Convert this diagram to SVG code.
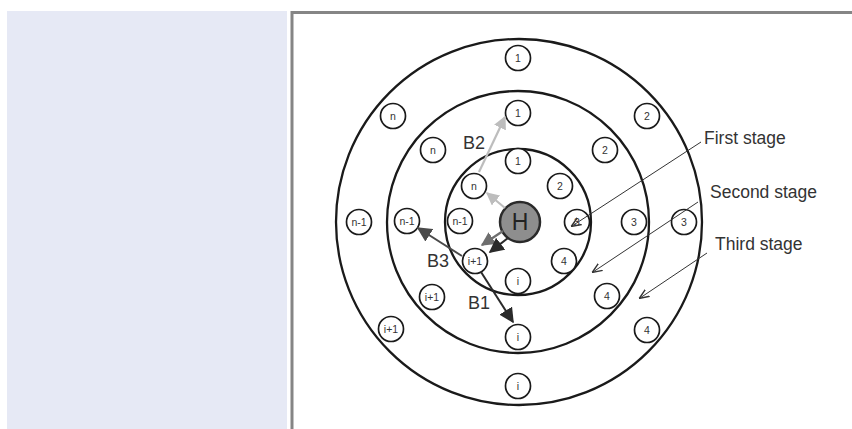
<svg xmlns="http://www.w3.org/2000/svg" width="852" height="429" viewBox="0 0 852 429">
<style>
.ring{fill:none;stroke:#1a1a1a;stroke-width:2.3}
.nd circle{fill:#fff;stroke:#1a1a1a;stroke-width:1.7}
.nd text{font-family:"Liberation Sans",Arial,sans-serif;font-size:10.5px;fill:#333;text-anchor:middle}
.lbl{font-family:"Liberation Sans",Arial,sans-serif;font-size:17.5px;fill:#333}
.blbl{font-family:"Liberation Sans",Arial,sans-serif;font-size:18px;fill:#333}
.lead{stroke:#333;stroke-width:1;fill:none}
</style>
<defs>
<marker id="aL" viewBox="0 0 10 10" refX="9" refY="5" markerWidth="13" markerHeight="13" markerUnits="userSpaceOnUse" orient="auto"><path d="M0,0 L10,5 L0,10 Z" fill="#bdbdbd"/></marker>
<marker id="aM" viewBox="0 0 10 10" refX="9" refY="5" markerWidth="14" markerHeight="14" markerUnits="userSpaceOnUse" orient="auto"><path d="M0,0 L10,5 L0,10 Z" fill="#6e6e6e"/></marker>
<marker id="aD" viewBox="0 0 10 10" refX="9" refY="5" markerWidth="15" markerHeight="15" markerUnits="userSpaceOnUse" orient="auto"><path d="M0,0 L10,5 L0,10 Z" fill="#2a2a2a"/></marker>
<marker id="aB3" viewBox="0 0 10 10" refX="9" refY="5" markerWidth="15" markerHeight="15" markerUnits="userSpaceOnUse" orient="auto"><path d="M0,0 L10,5 L0,10 Z" fill="#4a4a4a"/></marker>
<marker id="aO" viewBox="0 0 10 10" refX="9" refY="5" markerWidth="10" markerHeight="10" markerUnits="userSpaceOnUse" orient="auto"><path d="M0,1 L10,5 L0,9" fill="none" stroke="#333" stroke-width="1.4"/></marker>
</defs>
<rect x="7" y="11" width="280" height="418" fill="#e6e9f5"/>
<path d="M292,429 V12.5 H852" fill="none" stroke="#858585" stroke-width="3"/>

<g id="rings">
<circle class="ring" cx="519" cy="222" r="183"/>
<circle class="ring" cx="518" cy="222" r="131"/>
<circle class="ring" cx="518" cy="222" r="73"/>
</g>

<g id="outer-nodes">
<g class="nd" id="o1"><circle cx="518" cy="58" r="12.5"/><text x="518" y="62">1</text></g>
<g class="nd" id="o2"><circle cx="647" cy="116" r="12.5"/><text x="647" y="120">2</text></g>
<g class="nd" id="o3"><circle cx="684" cy="222" r="12.5"/><text x="684" y="226">3</text></g>
<g class="nd" id="o4"><circle cx="647" cy="330" r="12.5"/><text x="647" y="334">4</text></g>
<g class="nd" id="oi"><circle cx="518" cy="386" r="12.5"/><text x="518" y="390">i</text></g>
<g class="nd" id="oi1"><circle cx="391" cy="329" r="12.5"/><text x="391" y="333">i+1</text></g>
<g class="nd" id="on1"><circle cx="359" cy="222" r="12.5"/><text x="359" y="226">n-1</text></g>
<g class="nd" id="on"><circle cx="393" cy="116" r="12.5"/><text x="393" y="120">n</text></g>
</g>

<g id="middle-nodes">
<g class="nd" id="m1"><circle cx="518" cy="113" r="12.5"/><text x="518" y="117">1</text></g>
<g class="nd" id="m2"><circle cx="605" cy="150" r="12.5"/><text x="605" y="154">2</text></g>
<g class="nd" id="m3"><circle cx="634" cy="222" r="12.5"/><text x="634" y="226">3</text></g>
<g class="nd" id="m4"><circle cx="607" cy="296" r="12.5"/><text x="607" y="300">4</text></g>
<g class="nd" id="mi"><circle cx="518" cy="337" r="12.5"/><text x="518" y="341">i</text></g>
<g class="nd" id="mi1"><circle cx="432" cy="297" r="12.5"/><text x="432" y="301">i+1</text></g>
<g class="nd" id="mn1"><circle cx="407" cy="221" r="12.5"/><text x="407" y="225">n-1</text></g>
<g class="nd" id="mn"><circle cx="433" cy="150" r="12.5"/><text x="433" y="154">n</text></g>
</g>

<g id="inner-nodes">
<g class="nd" id="i1"><circle cx="518" cy="161" r="12.5"/><text x="518" y="165">1</text></g>
<g class="nd" id="i2"><circle cx="560" cy="186" r="12.5"/><text x="560" y="190">2</text></g>
<g class="nd" id="i3"><circle cx="577" cy="222" r="12.5"/><text x="577" y="226">3</text></g>
<g class="nd" id="i4"><circle cx="564" cy="261" r="12.5"/><text x="564" y="265">4</text></g>
<g class="nd" id="ii"><circle cx="518" cy="281" r="12.5"/><text x="518" y="285">i</text></g>
<g class="nd" id="ii1"><circle cx="475" cy="261" r="12.5"/><text x="475" y="265">i+1</text></g>
<g class="nd" id="in1"><circle cx="460" cy="221" r="12.5"/><text x="460" y="225">n-1</text></g>
<g class="nd" id="in"><circle cx="474" cy="186" r="12.5"/><text x="474" y="190">n</text></g>
</g>

<g id="H">
<circle cx="520" cy="222" r="20" fill="#8e8e8e" stroke="#2a2a2a" stroke-width="2.5"/>
<text x="520" y="230" font-family="'Liberation Sans',Arial,sans-serif" font-size="23" fill="#222" text-anchor="middle">H</text>
</g>

<g id="connectors">
<line x1="505" y1="208" x2="487" y2="193" stroke="#bdbdbd" stroke-width="2.2" marker-end="url(#aL)"/>
<line x1="479" y1="172" x2="505" y2="117" stroke="#bdbdbd" stroke-width="2.2" marker-end="url(#aL)"/>
<line x1="503" y1="231" x2="482" y2="245" stroke="#6e6e6e" stroke-width="2.2" marker-end="url(#aM)"/>
<line x1="508" y1="238" x2="490" y2="252" stroke="#2a2a2a" stroke-width="2.2" marker-end="url(#aD)"/>
<line x1="462" y1="256" x2="418" y2="228" stroke="#4a4a4a" stroke-width="2" marker-end="url(#aB3)"/>
<line x1="481" y1="272" x2="513" y2="322" stroke="#2a2a2a" stroke-width="2" marker-end="url(#aD)"/>
<line class="lead" x1="701" y1="142" x2="572" y2="226" marker-end="url(#aO)"/>
<line class="lead" x1="698" y1="202" x2="593" y2="272" marker-end="url(#aO)"/>
<line class="lead" x1="707" y1="253" x2="640" y2="298" marker-end="url(#aO)"/>
</g>

<g id="labels">
<text class="blbl" x="463" y="149">B2</text>
<text class="blbl" x="427" y="267">B3</text>
<text class="blbl" x="468" y="309">B1</text>
<text class="lbl" x="704" y="144">First stage</text>
<text class="lbl" x="710" y="198">Second stage</text>
<text class="lbl" x="715" y="250">Third stage</text>
</g>
</svg>
